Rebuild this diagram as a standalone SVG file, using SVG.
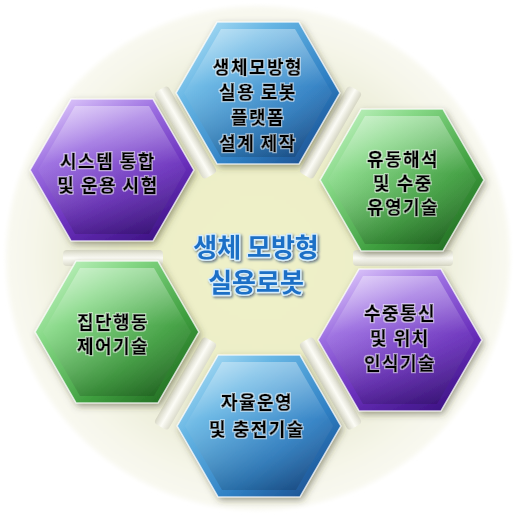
<svg xmlns="http://www.w3.org/2000/svg" xmlns:xlink="http://www.w3.org/1999/xlink" width="515" height="515" viewBox="0 0 515 515">
  <style>
    .lbl { font-family: "Noto Sans CJK KR", "Noto Sans", sans-serif; font-size: 18px; font-weight: 700; letter-spacing: 1.5px; fill: #000; stroke: #000; stroke-width: 0.5px; text-anchor: middle; }
    .ctr { font-family: "Noto Sans CJK KR", "Noto Sans", sans-serif; font-size: 26px; font-weight: 700; fill: #1d6fc6; text-anchor: middle; stroke: #d6edfb; stroke-width: 3px; paint-order: stroke; stroke-linejoin: round; }
    .edge { fill: none; stroke: #ffffff; stroke-opacity: 0.75; stroke-width: 1.5; }
  </style>
  <defs>
    <radialGradient id="bg" cx="0.5" cy="0.5" r="0.5">
      <stop offset="0" stop-color="#eff1c9"/>
      <stop offset="0.42" stop-color="#edefc8"/>
      <stop offset="0.6" stop-color="#e8ead0"/>
      <stop offset="0.9" stop-color="#f6f6ea"/>
      <stop offset="1" stop-color="#f9f9f1"/>
    </radialGradient>
    <linearGradient id="spoke" x1="0" y1="0" x2="0" y2="1">
      <stop offset="0" stop-color="#dcdccc"/>
      <stop offset="0.5" stop-color="#fcfcf6"/>
      <stop offset="1" stop-color="#d6d6c4"/>
    </linearGradient>
    <linearGradient id="gBlue" x1="0" y1="0" x2="1" y2="1">
      <stop offset="0" stop-color="#c2eafa"/>
      <stop offset="0.3" stop-color="#67b6e4"/>
      <stop offset="0.65" stop-color="#2f80c4"/>
      <stop offset="1" stop-color="#15407f"/>
    </linearGradient>
    <linearGradient id="gGreen" x1="0" y1="0" x2="1" y2="1">
      <stop offset="0" stop-color="#d4fad4"/>
      <stop offset="0.3" stop-color="#86d886"/>
      <stop offset="0.65" stop-color="#3f9f3f"/>
      <stop offset="1" stop-color="#185a18"/>
    </linearGradient>
    <linearGradient id="gPurple" x1="0.2" y1="0" x2="0.8" y2="1">
      <stop offset="0" stop-color="#dcc6fa"/>
      <stop offset="0.3" stop-color="#9a6ce0"/>
      <stop offset="0.65" stop-color="#6a30bc"/>
      <stop offset="1" stop-color="#3b1282"/>
    </linearGradient>
    <linearGradient id="shine" x1="0" y1="0" x2="0" y2="1">
      <stop offset="0" stop-color="#ffffff" stop-opacity="0.35"/>
      <stop offset="0.45" stop-color="#ffffff" stop-opacity="0.05"/>
      <stop offset="1" stop-color="#000000" stop-opacity="0.15"/>
    </linearGradient>
    <filter id="shadow" x="-20%" y="-20%" width="140%" height="140%">
      <feDropShadow dx="2" dy="3" stdDeviation="3.5" flood-color="#3a3a20" flood-opacity="0.5"/>
    </filter>
    <filter id="soft" x="-10%" y="-10%" width="120%" height="120%">
      <feGaussianBlur stdDeviation="2"/>
    </filter>
    <filter id="tshadow" x="-10%" y="-30%" width="120%" height="160%">
      <feDropShadow dx="1.5" dy="1.5" stdDeviation="1" flood-color="#0a2a5a" flood-opacity="0.6"/>
    </filter>
    <filter id="halo" x="-10%" y="-20%" width="120%" height="140%">
      <feMorphology in="SourceAlpha" operator="dilate" radius="1.2" result="d"/>
      <feFlood flood-color="#ffffff" flood-opacity="0.55"/>
      <feComposite in2="d" operator="in" result="w"/>
      <feMerge><feMergeNode in="w"/><feMergeNode in="SourceGraphic"/></feMerge>
    </filter>
    <polygon id="hex" points="82,0 41,71 -41,71 -82,0 -41,-71 41,-71"/>
    <polygon id="hexIn" points="74,0 37,64 -37,64 -74,0 -37,-64 37,-64"/>
  </defs>

  <circle cx="258" cy="258" r="252" fill="url(#bg)" filter="url(#soft)"/>

  <g id="connectors">
    <rect x="95" y="-8" width="100" height="16" rx="4" fill="url(#spoke)" transform="translate(258 258) rotate(-60)"/>
    <rect x="95" y="-8" width="100" height="16" rx="4" fill="url(#spoke)" transform="translate(258 258) rotate(0)"/>
    <rect x="95" y="-8" width="100" height="16" rx="4" fill="url(#spoke)" transform="translate(258 258) rotate(60)"/>
    <rect x="95" y="-8" width="100" height="16" rx="4" fill="url(#spoke)" transform="translate(258 258) rotate(120)"/>
    <rect x="95" y="-8" width="100" height="16" rx="4" fill="url(#spoke)" transform="translate(258 258) rotate(180)"/>
    <rect x="95" y="-8" width="100" height="16" rx="4" fill="url(#spoke)" transform="translate(258 258) rotate(240)"/>
  </g>

  <g id="center" filter="url(#tshadow)">
    <text class="ctr" x="256" y="257">생체 모방형</text>
    <text class="ctr" x="256" y="292">실용로봇</text>
  </g>

  <g id="node-top">
    <g transform="translate(258 93)">
      <use href="#hex" fill="url(#gBlue)" filter="url(#shadow)"/>
      <use href="#hexIn" fill="url(#shine)"/>
      <use href="#hex" class="edge"/>
    </g>
    <g filter="url(#halo)">
      <text class="lbl" x="258" y="74">생체모방형</text>
      <text class="lbl" x="258" y="99">실용 로봇</text>
      <text class="lbl" x="258" y="124">플랫폼</text>
      <text class="lbl" x="258" y="150">설계 제작</text>
    </g>
  </g>

  <g id="node-upper-right">
    <g transform="translate(402 180)">
      <use href="#hex" fill="url(#gGreen)" filter="url(#shadow)"/>
      <use href="#hexIn" fill="url(#shine)"/>
      <use href="#hex" class="edge"/>
    </g>
    <g filter="url(#halo)">
      <text class="lbl" x="403" y="166">유동해석</text>
      <text class="lbl" x="403" y="190">및 수중</text>
      <text class="lbl" x="403" y="214">유영기술</text>
    </g>
  </g>

  <g id="node-lower-right">
    <g transform="translate(400 340)">
      <use href="#hex" fill="url(#gPurple)" filter="url(#shadow)"/>
      <use href="#hexIn" fill="url(#shine)"/>
      <use href="#hex" class="edge"/>
    </g>
    <g filter="url(#halo)">
      <text class="lbl" x="400" y="320">수중통신</text>
      <text class="lbl" x="400" y="345">및 위치</text>
      <text class="lbl" x="400" y="370">인식기술</text>
    </g>
  </g>

  <g id="node-bottom">
    <g transform="translate(259 426)">
      <use href="#hex" fill="url(#gBlue)" filter="url(#shadow)"/>
      <use href="#hexIn" fill="url(#shine)"/>
      <use href="#hex" class="edge"/>
    </g>
    <g filter="url(#halo)">
      <text class="lbl" x="257" y="409">자율운영</text>
      <text class="lbl" x="257" y="436">및 충전기술</text>
    </g>
  </g>

  <g id="node-lower-left">
    <g transform="translate(117 332)">
      <use href="#hex" fill="url(#gGreen)" filter="url(#shadow)"/>
      <use href="#hexIn" fill="url(#shine)"/>
      <use href="#hex" class="edge"/>
    </g>
    <g filter="url(#halo)">
      <text class="lbl" x="113" y="328.5">집단행동</text>
      <text class="lbl" x="113" y="352.5">제어기술</text>
    </g>
  </g>

  <g id="node-upper-left">
    <g transform="translate(112 170)">
      <use href="#hex" fill="url(#gPurple)" filter="url(#shadow)"/>
      <use href="#hexIn" fill="url(#shine)"/>
      <use href="#hex" class="edge"/>
    </g>
    <g filter="url(#halo)">
      <text class="lbl" x="108" y="167.5">시스템 통합</text>
      <text class="lbl" x="108" y="191.5">및 운용 시험</text>
    </g>
  </g>
</svg>
